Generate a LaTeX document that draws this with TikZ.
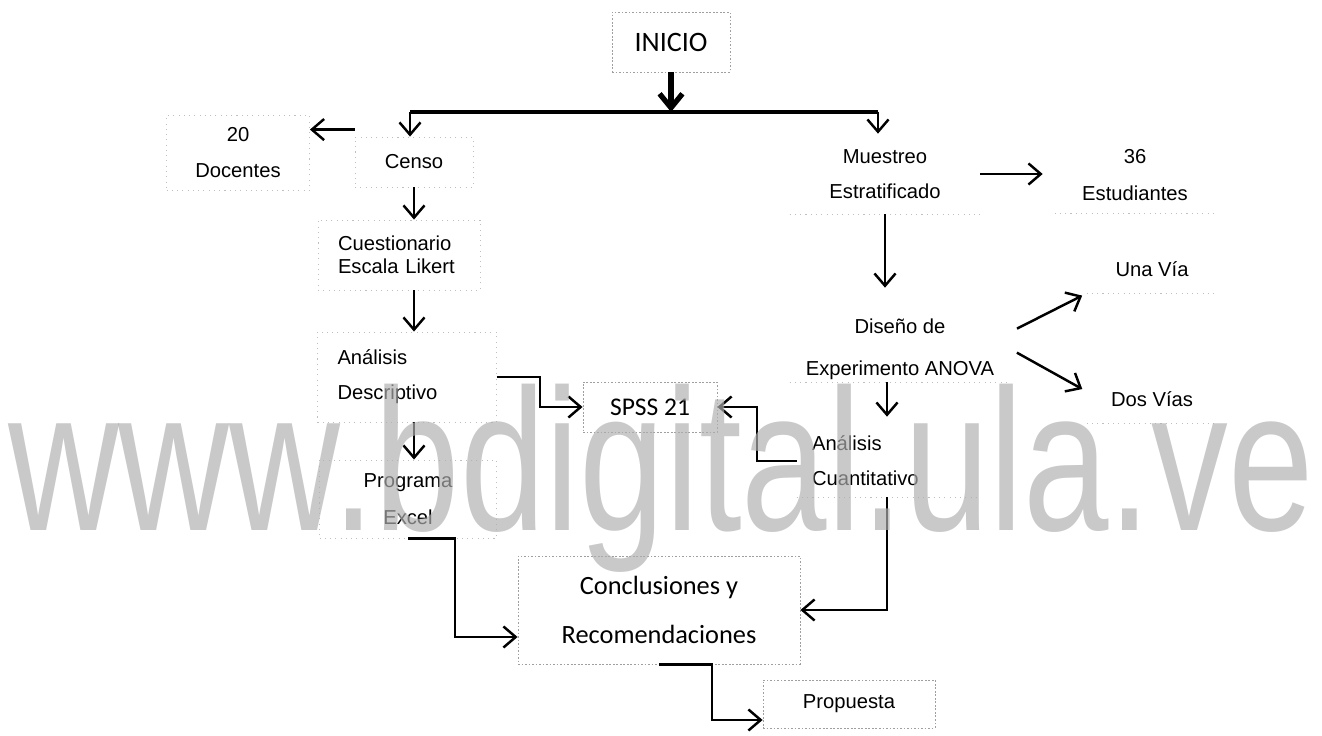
\documentclass[tikz,border=0pt]{standalone}
\usepackage{fontspec}
\setmainfont{Liberation Sans}
\newfontfamily\calibri{Carlito}
\usepackage{graphicx}
\usetikzlibrary{arrows.meta, calc}

\begin{document}
\begin{tikzpicture}[
  x=0.02cm, y=-0.02cm,
  lbl/.style={align=center, inner sep=0pt, font=\fontsize{11.5}{20}\selectfont},
  box/.style={lbl, draw=gray!50, line width=0.5pt, dash pattern=on 0.6pt off 2.4pt},
  cbox/.style={box, draw=gray!75, dash pattern=on 1pt off 1pt},
  rim/.style={draw=gray!50, line width=0.5pt, dash pattern=on 0.6pt off 2.4pt},
  arrow/.style={-{Straight Barb[length=7pt, width=12pt]}, line width=1.4pt},
  fat/.style={-{Straight Barb[length=8pt, width=13pt]}, line width=3pt},
  bus/.style={line width=2.8pt},
  wmark/.style={text={rgb,255:red,175;green,175;blue,175}, text opacity=0.68,
    inner sep=0pt, font=\fontsize{115}{120}\selectfont}
  ]
  \useasboundingbox (0,0) rectangle (1322,736);

  % start and the split bus
  \node[cbox, minimum width=2.36cm, minimum height=1.2cm,
    font=\calibri\fontsize{16}{19}\selectfont] (inicio) at (671,42) {INICIO};
  \coordinate (split) at (671,112);
  \coordinate (busL) at (410,112);
  \coordinate (busR) at (878,112);

  % census branch
  \node[box, minimum width=2.86cm, minimum height=1.5cm,
    font=\fontsize{11.5}{20.5}\selectfont] (docentes) at (238,153) {20\\Docentes};
  \node[box, minimum width=2.36cm, minimum height=1cm] (censo) at (414,162) {Censo};
  \node[box, text width=2.44cm, align=left, inner xsep=0.4cm, minimum height=1.4cm,
    font=\fontsize{11.5}{13}\selectfont] (cuestionario) at (399,255)
  {Cuestionario\\Escala Likert};
  \node[box, text width=2.78cm, align=left, inner xsep=0.4cm, minimum height=1.8cm]
  (descriptivo) at (407,377) {Análisis\\Descriptivo};
  \node[box, minimum width=3.54cm, minimum height=1.56cm,
    font=\fontsize{11.5}{21}\selectfont] (excel) at (408,499) {Programa\\Excel};

  % sampling branch
  \node[lbl, minimum width=3.8cm, minimum height=1.6cm] (muestreo) at (885,174)
  {Muestreo\\Estratificado};
  \node[lbl, minimum width=3.2cm, minimum height=1.54cm,
    font=\fontsize{11.5}{21}\selectfont] (estudiantes) at (1135,175) {36\\Estudiantes};
  \node[lbl, minimum width=4.4cm, minimum height=1.32cm,
    font=\fontsize{11.5}{24}\selectfont] (diseno) at (900,349)
  {Diseño de\\Experimento ANOVA};
  \node[lbl, minimum width=2.6cm, minimum height=0.96cm] (unavia) at (1152,269) {Una Vía};
  \node[lbl, minimum width=2.6cm, minimum height=0.96cm] (dosvias) at (1152,399) {Dos Vías};
  \node[lbl, text width=3.0cm, align=left, inner xsep=0.3cm, minimum height=1.44cm]
  (cuant) at (887,461) {Análisis\\Cuantitativo};

  % tools and results
  \node[cbox, minimum width=2.68cm, minimum height=1cm,
    font=\calibri\fontsize{14.5}{17}\selectfont] (spss) at (650,407) {SPSS 21};
  \node[cbox, minimum width=5.64cm, minimum height=2.16cm,
    font=\calibri\fontsize{15}{28}\selectfont] (conclusiones) at (659,610)
  {Conclusiones y\\Recomendaciones};
  \node[cbox, minimum width=3.44cm, minimum height=0.96cm] (propuesta) at (849,704)
  {Propuesta};

  \foreach \n in {muestreo, estudiantes, diseno, unavia, dosvias, cuant}
  \draw[rim] (\n.south west) -- (\n.south east);

  \draw[fat] (inicio) -- (split);
  \draw[bus] (busL) -- (busR);
  \draw[arrow] (busL) -- (busL |- censo.north);
  \draw[arrow] (busR) -- (busR |- muestreo.north);

  \coordinate (c2d) at ([yshift=0.14cm]censo.north west);
  \draw[arrow] (c2d) -- (c2d -| docentes.east);
  \draw[arrow] (censo.south) -- (censo.south |- cuestionario.north);
  \draw[arrow] (cuestionario.south -| censo.south) -- (descriptivo.north -| censo.south);
  \draw[arrow] (descriptivo.south -| censo.south) -- (excel.north -| censo.south);
  \draw[arrow] (descriptivo.east) -| ($(descriptivo.east)!0.5!(spss.west)$) |- (spss.west);
  \draw[arrow] (excel.south) -- ++(47,0) |- ([yshift=-0.54cm]conclusiones.west);

  \draw[arrow, shorten >=0.24cm] (muestreo.east) -- (muestreo.east -| estudiantes.west);
  \draw[arrow, shorten >=0.56cm] (muestreo.south) -- (muestreo.south |- diseno.north);
  \draw[arrow, shorten <=0.15cm, shorten >=0.1cm] ([yshift=0.34cm]diseno.east) -- (unavia.south west);
  \draw[arrow, shorten <=0.15cm, shorten >=0.1cm] (diseno.east) -- ([yshift=0.15cm]dosvias.west);
  \draw[arrow, shorten >=0.16cm] (diseno.south -| cuant.north) -- (cuant.north);
  \draw[arrow] (cuant.west) -| ($(cuant.west)!0.5!(spss.east)$) |- (spss.east);
  \draw[arrow] (cuant.south) |- (conclusiones.east);
  \draw[arrow] (conclusiones.south) -- ++(53,0) |- ([yshift=-0.32cm]propuesta.west);

  % scan watermark
  \node[wmark, anchor=base] (wm) at (661,530) {\scalebox{0.76}[1]{www.bdigital.ula.ve}};
\end{tikzpicture}
\end{document}
